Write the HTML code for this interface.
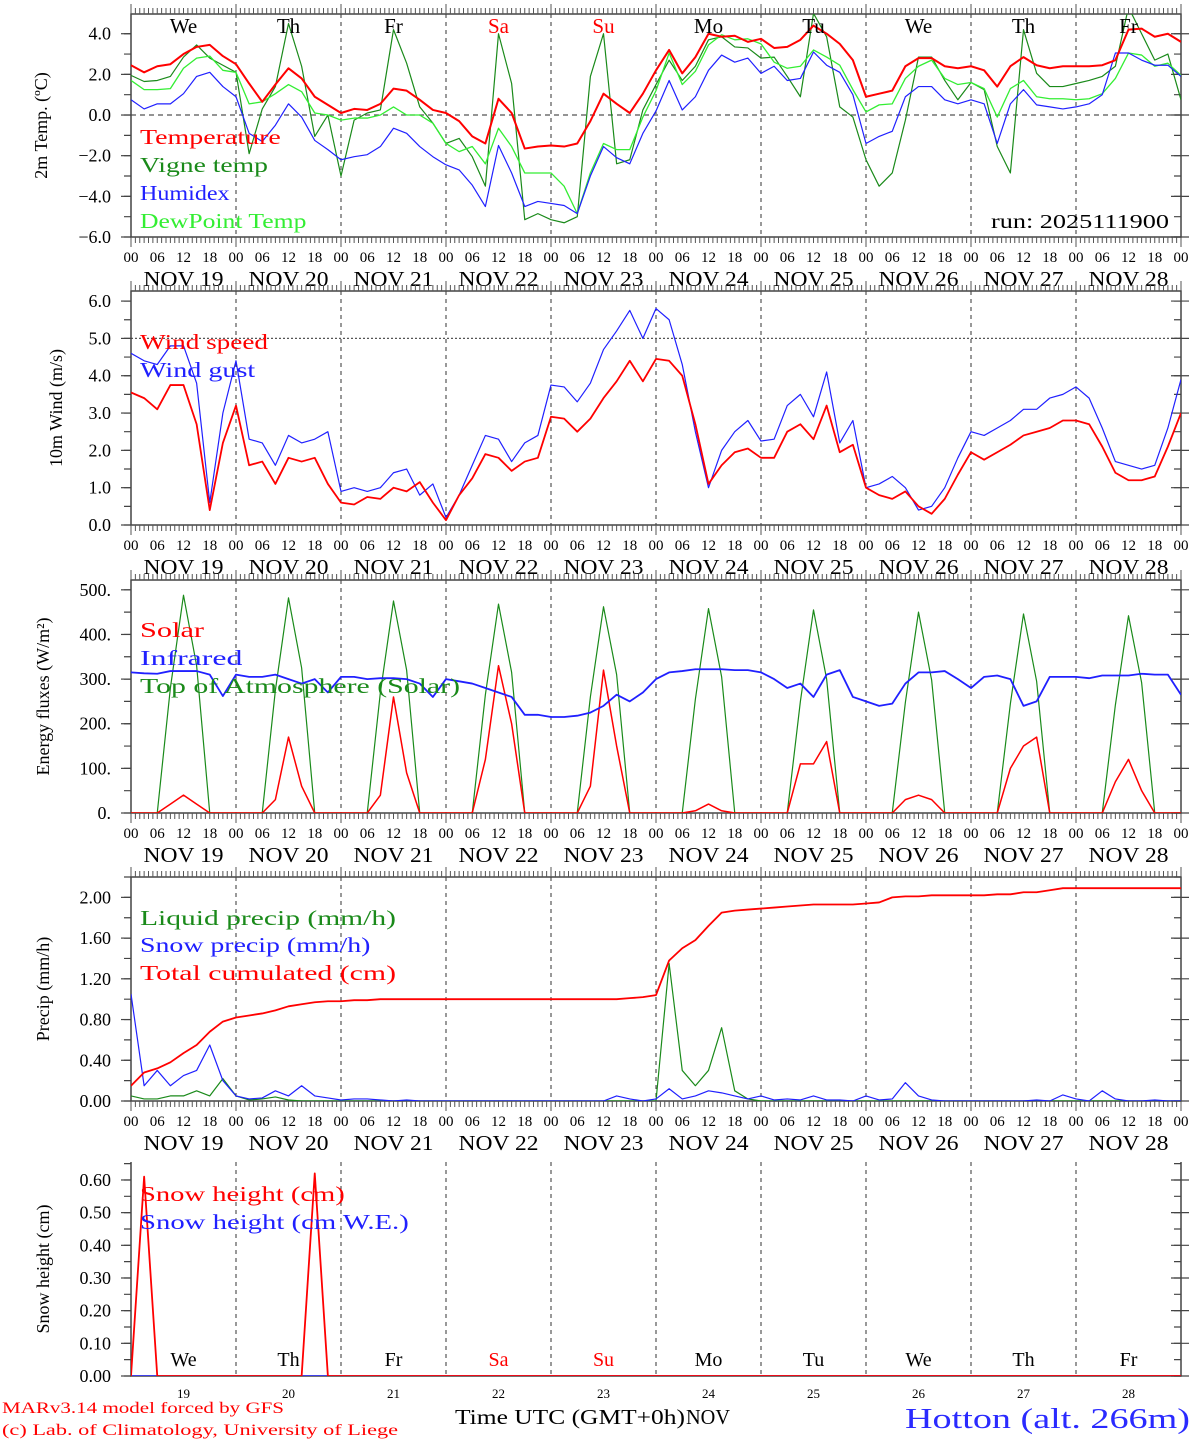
<!DOCTYPE html>
<html><head><meta charset="utf-8">
<style>
html,body{margin:0;padding:0;background:#fff;}
svg{display:block;font-family:"Liberation Serif","DejaVu Serif",serif;}
</style></head>
<body>
<svg id="chart" width="1194" height="1440" viewBox="0 0 1194 1440" xmlns="http://www.w3.org/2000/svg"></svg>
<script>
// ---- data (3-hourly, starting NOV 19 00 UTC) ----
const dayNames = ["We","Th","Fr","Sa","Su","Mo","Tu","We","Th","Fr"];
const dayNums = ["19","20","21","22","23","24","25","26","27","28"];
const hourLabels = ["00","06","12","18"];
const tempTicks = [4,2,0,-2,-4,-6];
const windTicks = [0,1,2,3,4,5,6];
const fluxTicks = [0,100,200,300,400,500];
const precipTicks = [0,0.4,0.8,1.2,1.6,2.0];
const snowTicks = [0,0.1,0.2,0.3,0.4,0.5,0.6];

const temperature = [2.45,2.1,2.4,2.5,3.0,3.35,3.45,2.9,2.5,1.55,0.65,1.5,2.3,1.8,0.9,0.5,0.1,0.3,0.25,0.55,1.3,1.2,0.75,0.25,0.1,-0.3,-1.05,-1.4,0.8,0.1,-1.65,-1.55,-1.5,-1.55,-1.4,-0.3,1.05,0.55,0.1,1.05,2.2,
3.2,2.05,2.85,4.0,3.85,3.9,3.6,3.75,3.3,3.35,3.7,4.4,4.0,3.5,2.7,0.9,1.05,1.2,2.4,2.8,2.8,2.4,2.3,2.4,2.2,1.4,2.4,2.85,2.45,2.3,2.4,2.4,2.4,2.45,2.7,4.2,4.25,3.85,4.0,3.6];
const vigneTemp = [1.95,1.65,1.7,1.9,2.85,3.45,2.8,2.45,2.1,-1.9,0.3,1.4,4.5,2.4,-1.05,0,-3.0,-0.25,0.1,0.25,4.2,2.55,0.4,-0.4,-1.4,-1.15,-2.05,-3.5,4.0,1.55,-5.15,-4.85,-5.15,-5.3,-5.0,1.9,4.0,-2.4,-2.2,0.25,1.5,
2.7,1.7,2.4,3.7,3.85,3.35,3.3,2.8,2.85,1.9,0.9,5.0,3.85,0.4,-0.1,-2.2,-3.5,-2.85,-0.25,2.85,2.85,1.7,0.75,1.6,1.25,-1.55,-2.85,4.2,2.05,1.4,1.4,1.55,1.7,1.9,2.4,5.3,4.0,2.7,3.0,0.75];
const humidex = [0.75,0.3,0.55,0.55,1.05,1.9,2.1,1.4,0.9,-0.9,-1.3,-0.5,0.55,-0.1,-1.25,-1.7,-2.2,-2.05,-1.95,-1.55,-0.65,-0.9,-1.55,-2.05,-2.45,-2.7,-3.45,-4.5,-1.5,-2.85,-4.5,-4.25,-4.35,-4.45,-4.85,-3.0,-1.55,-2.1,-2.4,-0.9,0.2,
1.7,0.25,0.9,2.2,2.95,2.6,2.8,2.05,2.4,1.7,1.8,3.1,2.45,2.1,1.0,-1.4,-1.05,-0.8,0.9,1.4,1.4,0.75,0.55,0.75,0.55,-1.4,0.55,1.25,0.5,0.4,0.3,0.4,0.55,1.0,3.05,3.05,2.7,2.45,2.45,1.9];
const dewPoint = [1.7,1.25,1.25,1.3,2.3,2.8,2.9,2.2,2.1,0.55,0.65,1.05,1.5,1.15,0.1,0,-0.25,-0.15,-0.15,0,0.4,0,0,-0.4,-1.4,-1.8,-1.55,-2.4,-0.65,-1.55,-2.85,-2.85,-2.85,-3.5,-4.85,-2.85,-1.4,-1.7,-1.7,-0.1,1.2,
3.05,1.5,2.15,3.45,3.95,3.7,3.75,3.5,2.6,2.3,2.4,3.2,2.85,2.45,1.25,0.15,0.5,0.55,1.8,2.4,2.7,1.8,1.5,1.6,1.3,-0.1,1.3,1.7,0.9,0.8,0.8,0.75,0.8,1.05,1.8,3.05,2.95,2.4,2.55,1.95];

const windSpeed = [3.55,3.4,3.1,3.75,3.75,2.7,0.4,2.2,3.2,1.6,1.7,1.1,1.8,1.7,1.8,1.1,0.6,0.55,0.75,0.7,1.0,0.9,1.15,0.6,0.13,0.8,1.25,1.9,1.8,1.45,1.7,1.8,2.9,2.85,2.5,2.85,3.4,3.85,4.4,3.85,4.45,
4.4,4.0,2.7,1.1,1.6,1.95,2.05,1.8,1.8,2.5,2.7,2.3,3.2,1.95,2.15,1.0,0.8,0.7,0.9,0.5,0.3,0.7,1.35,1.95,1.75,1.95,2.15,2.4,2.5,2.6,2.8,2.8,2.7,2.1,1.4,1.2,1.2,1.3,2.1,3.0];
const windGust = [4.6,4.4,4.3,4.8,4.8,3.8,0.6,3.0,4.4,2.3,2.2,1.6,2.4,2.2,2.3,2.5,0.9,1.0,0.9,1.0,1.4,1.5,0.8,1.1,0.2,0.8,1.6,2.4,2.3,1.7,2.2,2.4,3.75,3.7,3.3,3.8,4.7,5.2,5.75,5.0,5.8,
5.5,4.3,2.5,1.0,2.0,2.5,2.8,2.25,2.3,3.2,3.5,2.9,4.1,2.2,2.8,1.0,1.1,1.3,1.0,0.4,0.5,1.0,1.8,2.5,2.4,2.6,2.8,3.1,3.1,3.4,3.5,3.7,3.4,2.6,1.7,1.6,1.5,1.6,2.6,3.9];

const solar = [0,0,0,20,40,20,0,0, 0,0,0,30,170,60,0,0, 0,0,0,40,260,90,0,0, 0,0,0,120,330,200,0,0, 0,0,0,60,320,150,0,0,
0,0,0,5,20,5,0,0, 0,0,0,110,110,160,0,0, 0,0,0,30,40,30,0,0, 0,0,0,100,150,170,0,0, 0,0,0,70,120,50,0,0, 0];
const infrared = [315,313,312,318,318,318,310,262,310,305,305,310,300,290,300,270,305,305,300,302,302,300,290,260,300,295,290,280,270,260,220,220,215,215,218,225,240,265,250,270,300,
315,318,322,322,322,320,320,315,300,280,290,260,310,320,260,250,240,245,290,315,315,318,300,280,305,308,300,240,250,305,305,305,302,308,308,308,312,310,310,265];
const toaSolar = [0,0,0,280,488,330,0,0, 0,0,0,275,482,325,0,0, 0,0,0,270,475,320,0,0, 0,0,0,265,468,315,0,0, 0,0,0,260,462,310,0,0,
0,0,0,255,458,305,0,0, 0,0,0,250,455,300,0,0, 0,0,0,248,450,298,0,0, 0,0,0,245,446,295,0,0, 0,0,0,242,442,292,0,0, 0];

const liquidPrecip = [0.05,0.02,0.02,0.05,0.05,0.1,0.05,0.22,0.05,0.01,0.02,0.04,0.01,0,0,0,0,0,0,0,0,0,0,0,0,0,0,0,0,0,0,0,0,0,0,0,0,0,0,0,0,
1.35,0.3,0.15,0.3,0.72,0.1,0.02,0,0,0,0,0,0,0,0,0,0,0,0,0,0,0,0,0,0,0,0,0,0,0,0,0,0,0,0,0,0,0,0,0];
const snowPrecip = [1.05,0.15,0.3,0.15,0.25,0.3,0.55,0.2,0.05,0.02,0.03,0.1,0.05,0.15,0.05,0.03,0.01,0.02,0.02,0.01,0,0.01,0,0,0,0,0,0,0,0,0,0,0,0,0,0,0,0.05,0.02,0,0.02,
0.12,0.02,0.05,0.1,0.08,0.05,0.02,0.05,0.01,0.02,0.01,0.05,0.01,0.01,0,0.05,0.01,0.02,0.18,0.05,0.01,0,0,0,0,0,0,0,0.01,0,0.06,0.02,0,0.1,0.02,0,0,0.01,0,0];
const cumulated = [0.15,0.28,0.32,0.38,0.47,0.55,0.68,0.78,0.82,0.84,0.86,0.89,0.93,0.95,0.97,0.98,0.98,0.99,0.99,1.0,1.0,1.0,1.0,1.0,1.0,1.0,1.0,1.0,1.0,1.0,1.0,1.0,1.0,1.0,1.0,1.0,1.0,1.0,1.01,1.02,1.04,
1.38,1.5,1.58,1.72,1.85,1.87,1.88,1.89,1.9,1.91,1.92,1.93,1.93,1.93,1.93,1.94,1.95,2.0,2.01,2.01,2.02,2.02,2.02,2.02,2.02,2.03,2.03,2.05,2.05,2.07,2.09,2.09,2.09,2.09,2.09,2.09,2.09,2.09,2.09,2.09];
const snowHeight = [0,0.61,0,0,0,0,0,0,0,0,0,0,0,0,0.62,0,0,0,0,0,0,0,0,0,0,0,0,0,0,0,0,0,0,0,0,0,0,0,0,0,0,0,0,0,0,0,0,0,0,0,0,0,0,0,0,0,0,0,0,0,0,0,0,0,0,0,0,0,0,0,0,0,0,0,0,0,0,0,0,0,0];
const snowWE = [0,0,0,0,0,0,0,0,0,0,0,0,0,0,0,0,0,0,0,0,0,0,0,0,0,0,0,0,0,0,0,0,0,0,0,0,0,0,0,0,0,0,0,0,0,0,0,0,0,0,0,0,0,0,0,0,0,0,0,0,0,0,0,0,0,0,0,0,0,0,0,0,0,0,0,0,0,0,0,0,0];

// ---- layout ----
const NS = "http://www.w3.org/2000/svg";
const svg = document.getElementById("chart");
const X0 = 131, X1 = 1181, HOURS = 240;
function xScale(h){ return X0 + h*(X1-X0)/HOURS; }
function mk(tag, attrs, parent){
  const e = document.createElementNS(NS, tag);
  for (const k in attrs) e.setAttribute(k, attrs[k]);
  (parent||svg).appendChild(e);
  return e;
}
function txt(s, attrs, parent){ const t = mk("text", attrs, parent); t.textContent = s; return t; }

const panels = [
 {key:"temp", top:14, bot:237, vmin:-6, vmax:4.97, ticks:tempTicks, fmt:v=>v.toFixed(1).replace("-","\u2212"), minor:1, ref:0, title:"2m Temp. (\u00baC)", tx:47},
 {key:"wind", top:291, bot:525, vmin:0, vmax:6.27, ticks:windTicks, fmt:v=>v.toFixed(1), minor:0.5, ref:5, title:"10m Wind (m/s)", tx:62},
 {key:"flux", top:580, bot:813, vmin:0, vmax:522, ticks:fluxTicks, fmt:v=>v+".", minor:50, ref:null, title:"Energy fluxes (W/m\u00b2)", tx:49},
 {key:"precip", top:877, bot:1101, vmin:0, vmax:2.2, ticks:precipTicks, fmt:v=>v.toFixed(2), minor:0.2, ref:null, title:"Precip (mm/h)", tx:49},
 {key:"snow", top:1162, bot:1376, vmin:0, vmax:0.655, ticks:snowTicks, fmt:v=>v.toFixed(2), minor:0.05, ref:null, title:"Snow height (cm)", tx:49}
];

const defs = mk("defs", {});
panels.forEach((p,pi)=>{
  p.y = v => p.bot - (v - p.vmin)*(p.bot - p.top)/(p.vmax - p.vmin);
  const cp = mk("clipPath", {id:"clip"+pi}, defs);
  mk("rect", {x:X0, y:p.top, width:X1-X0, height:p.bot-p.top}, cp);

  const g = mk("g", {});
  
  

  for (let d=1; d<10; d++){
    const l = mk("line", {x1:xScale(d*24), x2:xScale(d*24), y1:p.top, y2:p.bot, stroke:"#333", "stroke-width":1, "stroke-dasharray":"4,4"}, g);
    
    
  }
  if (p.ref !== null){
    const l = mk("line", {x1:X0, x2:X1, y1:p.y(p.ref), y2:p.y(p.ref), stroke:"#555", "stroke-width":1.2, "stroke-dasharray": pi===0?"5,4":"2,2"}, g);
    
    
  }
  if (pi < 4){
    const fr = mk("rect", {x:X0, y:p.top, width:X1-X0, height:p.bot-p.top, fill:"none", stroke:"#444", "stroke-width":1.5}, g);
    
    
    let dd = "";
    for (let h=0; h<=HOURS; h++){
      const xx = xScale(h).toFixed(2);
      const len = h%24===0 ? 10 : 6;
      dd += `M${xx},${p.top}v${-len}M${xx},${p.bot}v${len}`;
    }
    const tk = mk("path", {d:dd, stroke:"#555", "stroke-width":1, fill:"none"}, g);
    
    
    for (let d=0; d<10; d++){
      for (let k=0; k<4; k++){
        const t = txt(hourLabels[k], {x:xScale(d*24+k*6), y:p.bot+25, "font-size":15, "text-anchor":"middle", fill:"#000"}, g);
        
        
      }
      const t2 = txt("NOV " + dayNums[d], {x:xScale(d*24+12), y:p.bot+49, "font-size":21, "text-anchor":"middle", fill:"#000", textLength:80, lengthAdjust:"spacingAndGlyphs"}, g);
      
      
    }
    const tEnd = txt("00", {x:X1, y:p.bot+25, "font-size":15, "text-anchor":"middle", fill:"#000"}, g);
    
    
  } else {
    const ax = mk("path", {d:`M${X0},${p.top}V${p.bot}H${X1}V${p.top}`, stroke:"#444", "stroke-width":1.5, fill:"none"}, g);
    
    
  }
  let md = "";
  for (let v=p.vmin; v<=p.vmax+1e-9; v+=p.minor){
    const yy = p.y(v).toFixed(2);
    md += `M${X0},${yy}h-7M${X1},${yy}h-7`;
  }
  mk("path", {d:md, stroke:"#444", "stroke-width":1.2, fill:"none"}, g);
  p.ticks.forEach(v=>{
    const yy = p.y(v);
    mk("line", {x1:X0-10, x2:X0, y1:yy, y2:yy, stroke:"#444", "stroke-width":1.2}, g);
    mk("line", {x1:X1-10, x2:X1+8, y1:yy, y2:yy, stroke:"#444", "stroke-width":1.2}, g);
    const t = txt(p.fmt(v), {x:111, y:yy+6, "font-size":18, "text-anchor":"end", fill:"#000"}, g);
    
    
  });
  const yt = txt(p.title, {x:p.tx, y:(p.top+p.bot)/2, "font-size":18, "text-anchor":"middle", fill:"#000", transform:`rotate(-90 ${p.tx} ${(p.top+p.bot)/2})`}, g);
  
  
});

function series(pi, arr, color, width, name){
  const p = panels[pi];
  let d = "";
  arr.forEach((v,i)=>{ d += (i?"L":"M") + xScale(i*3).toFixed(2) + "," + p.y(v).toFixed(2); });
  const path = mk("path", {d:d, stroke:color, "stroke-width":width, fill:"none", "clip-path":`url(#clip${pi})`, "stroke-linejoin":"round"});
  
  
}
function legend(pi, label, color, y, name){
  const t = txt(label, {x:140, y:y, "font-size":21, fill:color, textLength:label.length*12.8, lengthAdjust:"spacingAndGlyphs"});
  
  
}

series(0, vigneTemp, "#1a8a1a", 1.2, "vigne-temp-line");
series(0, dewPoint, "#33ee33", 1.3, "dewpoint-line");
series(0, humidex, "#2020ff", 1.2, "humidex-line");
series(0, temperature, "#ff0000", 2, "temperature-line");
dayNames.forEach((n,d)=>{
  const t = txt(n, {x:xScale(d*24+12), y:33, "font-size":21, "text-anchor":"middle", fill:(d===3||d===4)?"#ff0000":"#000"});
  
  
});
legend(0, "Temperature", "#ff0000", 144, "legend-temperature");
legend(0, "Vigne temp", "#1a8a1a", 172, "legend-vigne-temp");
legend(0, "Humidex", "#2020ff", 200, "legend-humidex");
legend(0, "DewPoint Temp", "#33ee33", 228, "legend-dewpoint");
const run = txt("run: 2025111900", {x:1169, y:228, "font-size":20, "text-anchor":"end", fill:"#000", textLength:178, lengthAdjust:"spacingAndGlyphs"});



series(1, windGust, "#2020ff", 1.2, "wind-gust-line");
series(1, windSpeed, "#ff0000", 1.8, "wind-speed-line");
legend(1, "Wind speed", "#ff0000", 349, "legend-wind-speed");
legend(1, "Wind gust", "#2020ff", 377, "legend-wind-gust");

series(2, toaSolar, "#1a8a1a", 1.2, "toa-solar-line");
series(2, solar, "#ff0000", 1.5, "solar-line");
series(2, infrared, "#2020ff", 1.8, "infrared-line");
legend(2, "Solar", "#ff0000", 637, "legend-solar");
legend(2, "Infrared", "#2020ff", 665, "legend-infrared");
legend(2, "Top of Atmosphere (Solar)", "#1a8a1a", 693, "legend-toa-solar");

series(3, liquidPrecip, "#1a8a1a", 1.2, "liquid-precip-line");
series(3, snowPrecip, "#2020ff", 1.2, "snow-precip-line");
series(3, cumulated, "#ff0000", 1.8, "cumulated-precip-line");
legend(3, "Liquid precip (mm/h)", "#1a8a1a", 925, "legend-liquid-precip");
legend(3, "Snow precip (mm/h)", "#2020ff", 952, "legend-snow-precip");
legend(3, "Total cumulated (cm)", "#ff0000", 980, "legend-cumulated");

series(4, snowWE, "#2020ff", 1.5, "snow-we-line");
series(4, snowHeight, "#ff0000", 1.8, "snow-height-line");
legend(4, "Snow height (cm)", "#ff0000", 1201, "legend-snow-height");
legend(4, "Snow height (cm W.E.)", "#2020ff", 1229, "legend-snow-we");
dayNames.forEach((n,d)=>{
  const t = txt(n, {x:xScale(d*24+12), y:1366, "font-size":20, "text-anchor":"middle", fill:(d===3||d===4)?"#ff0000":"#000"});
  
  
  const t2 = txt(dayNums[d], {x:xScale(d*24+12), y:1398, "font-size":13, "text-anchor":"middle", fill:"#000"});
  
  
});

const f1 = txt("Time UTC (GMT+0h)", {x:455, y:1424, "font-size":21, fill:"#000", textLength:230, lengthAdjust:"spacingAndGlyphs"});


const f2 = txt("NOV", {x:686, y:1424, "font-size":21, fill:"#000", textLength:44, lengthAdjust:"spacingAndGlyphs"});


const f3 = txt("MARv3.14 model forced by GFS", {x:2, y:1413, "font-size":16, fill:"#ff0000", textLength:282, lengthAdjust:"spacingAndGlyphs"});


const f4 = txt("(c) Lab. of Climatology, University of Liege", {x:2, y:1435, "font-size":16, fill:"#ff0000", textLength:396, lengthAdjust:"spacingAndGlyphs"});


const f5 = txt("Hotton (alt. 266m)", {x:905, y:1428, "font-size":29, fill:"#2a2aff", textLength:285, lengthAdjust:"spacingAndGlyphs"});


</script>
</body></html>
